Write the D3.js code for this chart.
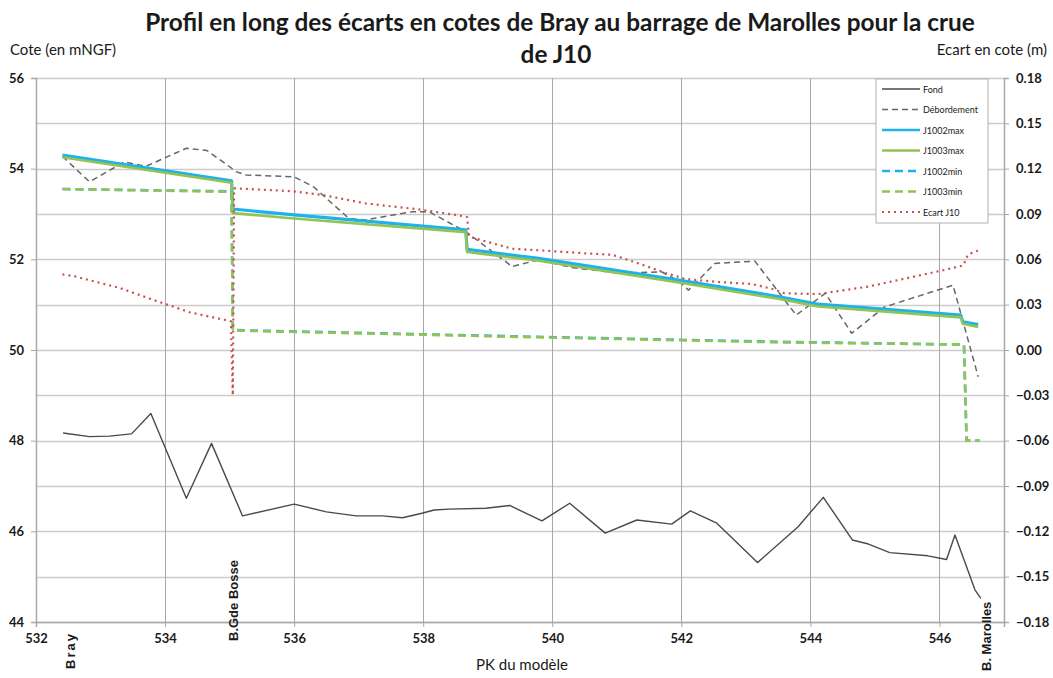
<!DOCTYPE html>
<html>
<head>
<meta charset="utf-8">
<script src="https://cdn.jsdelivr.net/npm/d3@7"></script>
<style>
  body { margin: 0; background: #fff; }
  svg text { font-family: Lato, "Open Sans", sans-serif; fill: #1a1a1a; }
</style>
</head>
<body>
<div id="vis"></div>
<script>
var width = 1053,
    height = 678;

// ----- data (PK in km, cotes in mNGF, ecart in m) -----
var fond = [
  [532.42, 48.17], [532.83, 48.09], [533.14, 48.10], [533.48, 48.15], [533.78, 48.60],
  [534.33, 46.73], [534.72, 47.94], [535.20, 46.34], [536.00, 46.60], [536.50, 46.43],
  [536.96, 46.34], [537.37, 46.34], [537.68, 46.30], [537.98, 46.40], [538.17, 46.47],
  [538.40, 46.49], [538.97, 46.51], [539.34, 46.57], [539.84, 46.23], [540.27, 46.62],
  [540.82, 45.96], [541.31, 46.25], [541.85, 46.16], [542.14, 46.45], [542.40, 46.28],
  [542.55, 46.18], [543.18, 45.31], [543.81, 46.10], [544.20, 46.75], [544.65, 45.81],
  [544.90, 45.72], [545.23, 45.53], [545.82, 45.46], [546.11, 45.38], [546.24, 45.92],
  [546.55, 44.71], [546.64, 44.52]
];

var debordement = [
  [532.41, 54.27], [532.83, 53.71], [533.37, 54.15], [533.70, 54.05], [534.33, 54.45],
  [534.65, 54.40], [535.11, 53.93], [535.26, 53.86], [536.00, 53.82], [536.30, 53.60],
  [536.85, 52.90], [537.11, 52.87], [537.83, 53.05], [538.09, 53.05], [538.66, 52.61],
  [539.38, 51.84], [539.79, 51.99], [540.30, 51.82], [541.00, 51.70], [541.70, 51.72],
  [541.96, 51.52], [542.11, 51.32], [542.52, 51.91], [543.14, 51.96], [543.50, 51.29],
  [543.78, 50.77], [544.23, 51.25], [544.64, 50.37], [545.15, 50.95], [546.21, 51.43],
  [546.60, 49.41]
];

var j1002max = [
  [532.41, 54.30], [535.03, 53.73], [535.05, 53.11], [536.00, 52.98], [538.66, 52.65],
  [538.68, 52.22], [539.79, 52.02], [541.96, 51.54], [543.50, 51.18], [544.12, 51.01],
  [546.33, 50.77], [546.36, 50.62], [546.60, 50.56]
];

var j1003max = [
  [532.41, 54.25], [535.03, 53.69], [535.05, 53.02], [536.00, 52.90], [538.66, 52.60],
  [538.68, 52.16], [539.79, 51.97], [541.96, 51.49], [543.50, 51.13], [544.12, 50.96],
  [546.33, 50.72], [546.36, 50.58], [546.60, 50.51]
];

var j1002min = [
  [532.41, 53.55], [535.03, 53.50], [535.05, 50.44], [539.79, 50.29], [543.50, 50.18],
  [546.38, 50.12], [546.42, 48.00], [546.62, 48.00]
];

var j1003min = [
  [532.41, 53.55], [535.03, 53.49], [535.05, 50.43], [539.79, 50.28], [543.50, 50.17],
  [546.38, 50.12], [546.42, 48.00], [546.62, 48.00]
];

var ecartJ10 = [
  [532.41, 0.050], [532.58, 0.049], [533.30, 0.041], [533.76, 0.034], [534.38, 0.025],
  [535.02, 0.019], [535.05, -0.030], [535.07, 0.107], [536.00, 0.105], [536.44, 0.1026],
  [537.11, 0.097], [537.94, 0.093], [538.56, 0.089], [538.68, 0.088], [538.71, 0.075],
  [539.38, 0.067], [539.79, 0.066], [540.51, 0.064], [540.93, 0.063], [541.29, 0.058],
  [541.75, 0.051], [542.06, 0.047], [542.58, 0.045], [543.09, 0.0437], [543.45, 0.040],
  [543.60, 0.0375], [544.12, 0.037], [544.90, 0.042], [546.08, 0.053], [546.37, 0.056],
  [546.44, 0.063], [546.60, 0.066]
];

var xTicks = [532, 534, 536, 538, 540, 542, 544, 546];
var yLeftTicks = [44, 46, 48, 50, 52, 54, 56];
var yRightTicks = [-0.18, -0.15, -0.12, -0.09, -0.06, -0.03, 0, 0.03, 0.06, 0.09, 0.12, 0.15, 0.18];
var sites = [["Bray", 532.53], ["B.Gde Bosse", 535.05], ["B. Marolles", 546.72]];

// ----- layout -----
var plotLeft = 36, plotRight = 1004, plotTop = 78, plotBottom = 622;

var svg = d3.select("#vis").append("svg")
    .attr("width", width)
    .attr("height", height);

var x = d3.scaleLinear().domain([532, 547]).range([plotLeft, plotRight]);
var yL = d3.scaleLinear().domain([44, 56]).range([plotBottom, plotTop]);
var yR = d3.scaleLinear().domain([-0.18, 0.18]).range([plotBottom, plotTop]);

//--------GRID--------//
svg.append("g")
    .selectAll("line")
    .data(yRightTicks)
    .enter()
    .append("line")
    .attr("x1", plotLeft).attr("x2", plotRight)
    .attr("y1", function(d) { return Math.round(yR(d)) + 0.5; })
    .attr("y2", function(d) { return Math.round(yR(d)) + 0.5; })
    .style("stroke", "#cccccc")
    .style("stroke-width", 1.3);

svg.append("g")
    .selectAll("line")
    .data(xTicks.concat([547]))
    .enter()
    .append("line")
    .attr("x1", function(d) { return Math.round(x(d)) + 0.5; })
    .attr("x2", function(d) { return Math.round(x(d)) + 0.5; })
    .attr("y1", plotTop).attr("y2", plotBottom)
    .style("stroke", "#a8a8a8")
    .style("stroke-width", 1);

//--------AXES--------//
var axL = svg.append("g")
    .attr("transform", "translate(" + plotLeft + ",0)")
    .call(d3.axisLeft(yL).tickValues(yLeftTicks).tickSize(5).tickPadding(7).tickFormat(d3.format("d")));
var axR = svg.append("g")
    .attr("transform", "translate(" + plotRight + ",0)")
    .call(d3.axisRight(yR).tickValues(yRightTicks).tickSize(5).tickPadding(7).tickFormat(d3.format(".2f")));
var axB = svg.append("g")
    .attr("transform", "translate(0," + plotBottom + ")")
    .call(d3.axisBottom(x).tickValues(xTicks).tickSize(5).tickPadding(7).tickFormat(d3.format("d")));

[axL, axR, axB].forEach(function(a) {
  a.selectAll(".domain").style("stroke", "#a8a8a8").style("stroke-width", 1.5);
  a.selectAll(".tick line").style("stroke", "#a8a8a8");
  a.selectAll("text")
    .style("font-family", "Lato, sans-serif")
    .style("font-size", "13px")
    .style("font-weight", "bold")
    .style("fill", "#1a1a1a");
});
axR.selectAll("text").attr("x", 12);

//--------SERIES--------//
var lineLeft = d3.line().x(function(d) { return x(d[0]); }).y(function(d) { return yL(d[1]); });
var lineRight = d3.line().x(function(d) { return x(d[0]); }).y(function(d) { return yR(d[1]); });

var series = [
  { data: fond, color: "#4a4a4a", w: 1.4, dash: null, axis: "L" },
  { data: debordement, color: "#666666", w: 1.5, dash: "6,4", axis: "L" },
  { data: j1002max, color: "#1eb2ea", w: 3.2, dash: null, axis: "L" },
  { data: j1003max, color: "#92c353", w: 2.6, dash: null, axis: "L" },
  { data: j1002min, color: "#1eb2ea", w: 2.6, dash: "8,5", axis: "L" },
  { data: j1003min, color: "#92c353", w: 2.6, dash: "8,5", axis: "L" },
  { data: ecartJ10, color: "#c8504d", w: 2.2, dash: "2,4", axis: "R" }
];

series.forEach(function(s) {
  svg.append("path")
    .datum(s.data)
    .attr("d", s.axis === "L" ? lineLeft(s.data) : lineRight(s.data))
    .style("fill", "none")
    .style("stroke", s.color)
    .style("stroke-width", s.w)
    .style("stroke-dasharray", s.dash)
    .style("stroke-linejoin", "round");
});

//--------SITE LABELS--------//
var siteBase = [669, 641, 671];
svg.selectAll(".site")
    .data(sites)
    .enter()
    .append("text")
    .attr("class", "site")
    .attr("transform", function(d, i) { return "translate(" + (x(d[1]) + 5) + "," + siteBase[i] + ") rotate(-90)"; })
    .style("font-family", "'Liberation Sans', Arial, sans-serif")
    .style("font-weight", "bold")
    .style("font-size", "13px")
    .style("letter-spacing", function(d, i) { return i === 0 ? "2px" : "0px"; })
    .text(function(d) { return d[0]; });

//--------TITLES--------//
var title1 = svg.append("text")
    .attr("x", 560).attr("y", 31)
    .attr("text-anchor", "middle")
    .style("font-size", "21px")
    .style("font-weight", "bold")
    .text("Profil en long des écarts en cotes de Bray au barrage de Marolles pour la crue");
// fit the title to the width seen in the reference
var tw = title1.node().getComputedTextLength();
var titleSize = 21 * 830 / tw;
title1.style("font-size", titleSize + "px");
svg.append("text")
    .attr("x", 556).attr("y", 63)
    .attr("text-anchor", "middle")
    .style("font-size", titleSize + "px")
    .style("font-weight", "bold")
    .text("de J10");

svg.append("text")
    .attr("x", 10).attr("y", 55)
    .style("font-size", "15px")
    .text("Cote (en mNGF)");
svg.append("text")
    .attr("x", 1047).attr("y", 55)
    .attr("text-anchor", "end")
    .style("font-size", "15px")
    .text("Ecart en cote (m)");
svg.append("text")
    .attr("x", 522).attr("y", 670)
    .attr("text-anchor", "middle")
    .style("font-size", "15px")
    .text("PK du modèle");

//--------LEGEND--------//
var legendItems = [
  ["Fond", series[0]], ["Débordement", series[1]], ["J1002max", series[2]], ["J1003max", series[3]],
  ["J1002min", series[4]], ["J1003min", series[5]], ["Ecart J10", series[6]]
];
var legend = svg.append("g").attr("transform", "translate(876,79)");
legend.append("rect")
    .attr("width", 112).attr("height", 144)
    .style("fill", "#fff")
    .style("stroke", "#b0b0b0");
var legenditem = legend.selectAll(".legenditem")
    .data(legendItems)
    .enter()
    .append("g")
    .attr("transform", function(d, i) { return "translate(0," + (10 + i * 20.5) + ")"; });
legenditem.append("line")
    .attr("x1", 6).attr("x2", 44)
    .style("stroke", function(d) { return d[1].color; })
    .style("stroke-width", function(d) { return Math.min(d[1].w, 2.6); })
    .style("stroke-dasharray", function(d) { return d[1].dash; });
legenditem.append("text")
    .attr("x", 47).attr("y", 3.5)
    .style("font-size", "9px")
    .text(function(d) { return d[0]; });
</script>
</body>
</html>
